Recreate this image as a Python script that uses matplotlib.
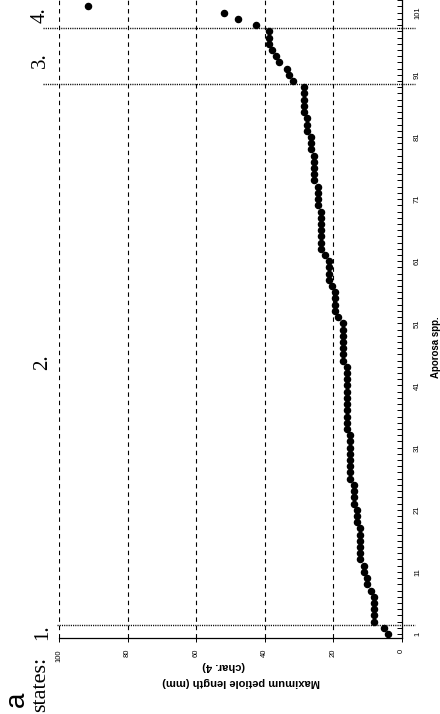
import numpy as np
import matplotlib
matplotlib.use("Agg")
import matplotlib.pyplot as plt

# species rank (x in the original chart) and max petiole length (mm)
species = np.arange(1, 103)
petiole = [4, 5, 8, 8, 8, 8, 8, 9, 10, 10,
           11, 11, 12, 12, 12, 12, 12, 12, 13, 13,
           13, 14, 14, 14, 14, 15, 15, 15, 15, 15,
           15, 15, 15, 16, 16, 16, 16, 16, 16, 16,
           16, 16, 16, 16, 17, 17, 17, 17, 17, 17,
           17, 18.4, 19.4, 19.4, 19.4, 19.4, 20.4, 21.3, 21.3, 21.3,
           21.3, 22.2, 23.4, 23.4, 23.4, 23.4, 23.4, 23.4, 23.4, 24.5,
           24.5, 24.5, 24.5, 25.5, 25.5, 25.5, 25.5, 25.5, 26.5, 26.5,
           26.5, 27.5, 27.5, 27.5, 28.5, 28.5, 28.5, 28.5, 28.5, 31.6,
           32.8, 33.5, 35.7, 36.6, 37.9, 38.6, 38.6, 38.6, 42.5, 47.6,
           51.7, 91.4]
state_breaks = [2.5, 89.5, 98.5]
length_ticks = [0, 20, 40, 60, 80, 100]
species_ticks = [1, 11, 21, 31, 41, 51, 61, 71, 81, 91, 101]

W, H = 440, 714
fig = plt.figure(figsize=(W / 100, H / 100), dpi=100)
plt.rcParams['font.family'] = ['Liberation Sans', 'DejaVu Sans']

# the whole chart is drawn turned by 90 degrees
ax = fig.add_axes([59 / W, 76 / H, (401.5 - 59) / W, 638 / H])
ax.set_xlim(100, 0)
ax.set_ylim(0.36, 103.04)

for g in [20, 40, 60, 80, 100]:
    ax.axvline(g, color='black', lw=0.8, ls=(0, (4, 3.5)), zorder=1)

starts = [100.5, 104.7, 104.7]
for b, s in zip(state_breaks, starts):
    ax.plot([s, -3.9], [b, b], color='black', lw=1.0, ls=(0, (0.8, 0.8)),
            clip_on=False, zorder=2)

ax.plot(petiole, species, 'o', color='black', ms=4.4, mec='black', zorder=3)

for side in ['left', 'top']:
    ax.spines[side].set_visible(False)
ax.spines['right'].set_linewidth(0.9)
ax.spines['bottom'].set_linewidth(0.9)

ax.yaxis.tick_right()
ax.set_yticks(species_ticks)
ax.set_yticks(np.arange(1, 104), minor=True)
ax.set_yticklabels([str(t) for t in species_ticks], rotation=90,
                   va='center', ha='left', fontsize=5.5)
ax.tick_params(axis='y', which='both', direction='in', length=3.5,
               width=0.7, pad=9)

ax.set_xticks(length_ticks)
ax.set_xticklabels([str(t) for t in length_ticks], rotation=90,
                   ha='center', va='top', fontsize=5.5)
ax.tick_params(axis='x', direction='out', length=3, width=0.7, pad=5)


def ft(x, y, s, **kw):
    fig.text(x / W, 1 - y / H, s, ha='center', va='center', **kw)


ft(436, 347, 'Aporosa spp.', rotation=90, fontsize=7, fontweight='bold')
ft(241, 682, 'Maximum petiole length (mm)', rotation=180, fontsize=8,
   fontweight='bold')
ft(224, 666, '(char. 4)', rotation=180, fontsize=8, fontweight='bold')

serif = ['Liberation Serif', 'DejaVu Serif']
ft(41, 684, 'states:', rotation=90, fontsize=16, family=serif)
ft(43, 632, '1.', rotation=90, fontsize=15, family=serif)
ft(43, 362, '2.', rotation=90, fontsize=15, family=serif)
ft(40, 60, '3.', rotation=90, fontsize=15, family=serif)
ft(40, 15, '4.', rotation=90, fontsize=15, family=serif)
ft(17, 699, 'a', rotation=90, fontsize=20)

fig.savefig('out.png', dpi=100)
